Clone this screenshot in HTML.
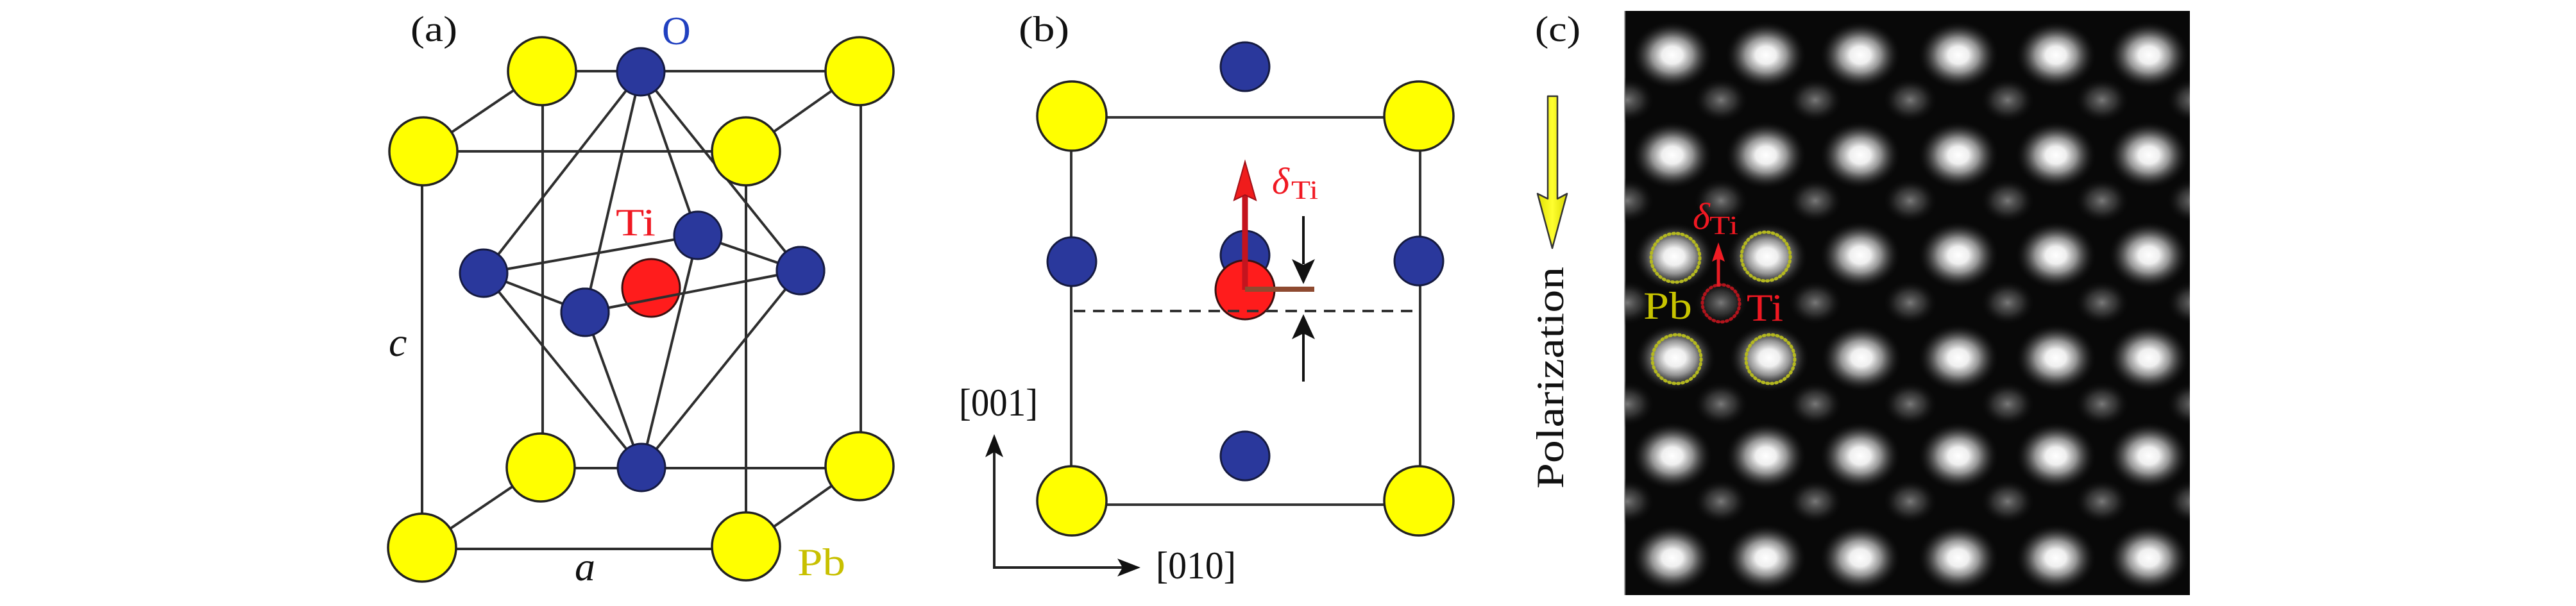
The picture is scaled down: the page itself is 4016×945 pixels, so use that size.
<!DOCTYPE html>
<html>
<head>
<meta charset="utf-8">
<style>
  html, body { margin:0; padding:0; background:#ffffff; }
  body { width:4016px; height:945px; overflow:hidden; }
  svg { display:block; }
  text { font-family: "Liberation Serif", "DejaVu Serif", serif; }
</style>
</head>
<body>
<svg width="4016" height="945" viewBox="0 0 4016 945" xmlns="http://www.w3.org/2000/svg" font-family="'Liberation Serif', 'DejaVu Serif', serif">
  <defs>
    <radialGradient id="pb" cx="50%" cy="50%" r="50%">
      <stop offset="0" stop-color="#ffffff" stop-opacity="1"/>
      <stop offset="0.25" stop-color="#f6f6f6" stop-opacity="0.97"/>
      <stop offset="0.5" stop-color="#d0d0d0" stop-opacity="0.7"/>
      <stop offset="0.75" stop-color="#8a8a8a" stop-opacity="0.28"/>
      <stop offset="1" stop-color="#000000" stop-opacity="0"/>
    </radialGradient>
    <radialGradient id="ti" cx="50%" cy="50%" r="50%">
      <stop offset="0" stop-color="#858585" stop-opacity="0.9"/>
      <stop offset="0.5" stop-color="#5a5a5a" stop-opacity="0.5"/>
      <stop offset="1" stop-color="#000000" stop-opacity="0"/>
    </radialGradient>
    <linearGradient id="yarr" x1="0" y1="0" x2="1" y2="0">
      <stop offset="0" stop-color="#e0e000"/>
      <stop offset="0.5" stop-color="#ffff30"/>
      <stop offset="1" stop-color="#d8d800"/>
    </linearGradient>
    <clipPath id="stemclip"><rect x="2533" y="17" width="881" height="911"/></clipPath>
  </defs>

  <!-- ================= Panel (a) ================= -->
  <text x="640" y="64" font-family="Liberation Serif, serif" font-size="56" textLength="73" lengthAdjust="spacingAndGlyphs" fill="#111">(a)</text>
  <text x="1032" y="69" font-family="Liberation Serif, serif" font-size="62" fill="#2040c0">O</text>

  <g stroke="#2e2e2e" stroke-width="4" fill="none" stroke-linecap="round">
    <line x1="845" y1="111" x2="1340" y2="111"/>
    <line x1="660" y1="236" x2="1163" y2="236"/>
    <line x1="843" y1="730" x2="1340" y2="730"/>
    <line x1="658" y1="856" x2="1163" y2="856"/>
    <line x1="846" y1="111" x2="846" y2="729"/>
    <line x1="1342" y1="111" x2="1342" y2="727"/>
    <line x1="658" y1="236" x2="658" y2="854"/>
    <line x1="1163" y1="236" x2="1163" y2="852"/>
    <line x1="660" y1="236" x2="845" y2="111"/>
    <line x1="1163" y1="236" x2="1340" y2="111"/>
    <line x1="658" y1="854" x2="843" y2="729"/>
    <line x1="1163" y1="852" x2="1340" y2="727"/>
    <line x1="999" y1="112" x2="754" y2="426"/>
    <line x1="999" y1="112" x2="912" y2="487"/>
    <line x1="999" y1="112" x2="1088" y2="367"/>
    <line x1="999" y1="112" x2="1248" y2="422"/>
    <line x1="1000" y1="729" x2="754" y2="426"/>
    <line x1="1000" y1="729" x2="912" y2="487"/>
    <line x1="1000" y1="729" x2="1088" y2="367"/>
    <line x1="1000" y1="729" x2="1248" y2="422"/>
    <line x1="754" y1="426" x2="1088" y2="367"/>
    <line x1="754" y1="426" x2="912" y2="487"/>
    <line x1="1088" y1="367" x2="1248" y2="422"/>
  </g>

  <g fill="#ffff00" stroke="#222" stroke-width="3.5">
    <circle cx="845" cy="111" r="53"/>
    <circle cx="1340" cy="111" r="53"/>
    <circle cx="660" cy="236" r="53"/>
    <circle cx="1163" cy="236" r="53"/>
    <circle cx="843" cy="729" r="53"/>
    <circle cx="1340" cy="727" r="53"/>
    <circle cx="658" cy="854" r="53"/>
    <circle cx="1163" cy="852" r="53"/>
  </g>
  <g fill="#2a389c" stroke="#151a40" stroke-width="3">
    <circle cx="999" cy="112" r="37"/>
    <circle cx="1000" cy="729" r="37"/>
    <circle cx="754" cy="426" r="37"/>
    <circle cx="1248" cy="422" r="37"/>
    <circle cx="912" cy="487" r="37"/>
    <circle cx="1088" cy="367" r="37"/>
  </g>
  <circle cx="1015" cy="449" r="45" fill="#ff1c1c" stroke="#3a1010" stroke-width="3"/>
  <line x1="912" y1="487" x2="1248" y2="422" stroke="#2e2e2e" stroke-width="4"/>
  <circle cx="912" cy="487" r="37" fill="#2a389c" stroke="#151a40" stroke-width="3"/>
  <circle cx="1248" cy="422" r="37" fill="#2a389c" stroke="#151a40" stroke-width="3"/>

  <text x="960" y="367" font-family="Liberation Serif, serif" font-size="60" textLength="62" lengthAdjust="spacingAndGlyphs" fill="#f01822">Ti</text>
  <text x="606" y="555" font-family="Liberation Serif, serif" font-size="64" font-style="italic" fill="#111">c</text>
  <text x="896" y="905" font-family="Liberation Serif, serif" font-size="64" font-style="italic" fill="#111">a</text>
  <text x="1243" y="897" font-family="Liberation Serif, serif" font-size="60" textLength="75" lengthAdjust="spacingAndGlyphs" fill="#c8c000">Pb</text>

  <!-- ================= Panel (b) ================= -->
  <text x="1588" y="64" font-family="Liberation Serif, serif" font-size="56" textLength="79" lengthAdjust="spacingAndGlyphs" fill="#111">(b)</text>

  <g stroke="#333" stroke-width="4" fill="none">
    <line x1="1671" y1="183" x2="2212" y2="183"/>
    <line x1="1671" y1="787" x2="2212" y2="787"/>
    <line x1="1670" y1="181" x2="1670" y2="781"/>
    <line x1="2214" y1="181" x2="2214" y2="781"/>
  </g>
  <g fill="#ffff00" stroke="#222" stroke-width="3.5">
    <circle cx="1671" cy="181" r="54"/>
    <circle cx="2212" cy="181" r="54"/>
    <circle cx="1671" cy="781" r="54"/>
    <circle cx="2212" cy="781" r="54"/>
  </g>
  <g fill="#2a389c" stroke="#151a40" stroke-width="3">
    <circle cx="1941" cy="104" r="38"/>
    <circle cx="1671" cy="408" r="38"/>
    <circle cx="2212" cy="407" r="38"/>
    <circle cx="1941" cy="398" r="38"/>
    <circle cx="1941" cy="711" r="38"/>
  </g>
  <circle cx="1941" cy="452" r="46" fill="#ff1c1c" stroke="#3a1010" stroke-width="3"/>
  <line x1="1674" y1="485" x2="2212" y2="485" stroke="#333" stroke-width="4" stroke-dasharray="18 12"/>

  <line x1="1941" y1="452" x2="1941" y2="300" stroke="#c4141e" stroke-width="9"/>
  <path d="M1941,252 L1958,312 L1941,304 L1924,312 Z" fill="#f01c1c" stroke="#a01018" stroke-width="2"/>
  <line x1="1941" y1="451" x2="2049" y2="451" stroke="#8e4a30" stroke-width="8"/>
  <line x1="2032" y1="337" x2="2032" y2="412" stroke="#111" stroke-width="4"/>
  <path d="M2032,443 L2050,404 L2032,413 L2014,404 Z" fill="#111"/>
  <line x1="2032" y1="595" x2="2032" y2="520" stroke="#111" stroke-width="4"/>
  <path d="M2032,490 L2050,529 L2032,520 L2014,529 Z" fill="#111"/>
  <text x="1983" y="302" font-family="Liberation Serif, serif" font-size="58" font-style="italic" fill="#f01822">δ</text>
  <text x="2013" y="310" font-family="Liberation Serif, serif" font-size="41" textLength="42" lengthAdjust="spacingAndGlyphs" fill="#f01822">Ti</text>

  <line x1="1550" y1="887" x2="1550" y2="705" stroke="#222" stroke-width="4"/>
  <path d="M1550,677 L1564,713 L1550,705 L1536,713 Z" fill="#111"/>
  <line x1="1548" y1="885" x2="1750" y2="885" stroke="#222" stroke-width="4"/>
  <path d="M1778,885 L1742,899 L1750,885 L1742,871 Z" fill="#111"/>
  <text x="1495" y="648" font-family="Liberation Serif, serif" font-size="60" textLength="123" lengthAdjust="spacingAndGlyphs" fill="#111">[001]</text>
  <text x="1802" y="902" font-family="Liberation Serif, serif" font-size="60" textLength="125" lengthAdjust="spacingAndGlyphs" fill="#111">[010]</text>

  <!-- ================= Panel (c) ================= -->
  <text x="2393" y="64" font-family="Liberation Serif, serif" font-size="56" textLength="71" lengthAdjust="spacingAndGlyphs" fill="#111">(c)</text>

  <path d="M2413,150 L2428,150 L2428,310 L2443,302 L2420,387 L2397,302 L2413,310 Z" fill="url(#yarr)" stroke="#333" stroke-width="2.5" stroke-linejoin="round"/>
  <text transform="translate(2437,762) rotate(-90)" font-family="Liberation Serif, serif" font-size="60" textLength="346" lengthAdjust="spacingAndGlyphs" fill="#111">Polarization</text>

  <rect x="2532" y="17" width="882" height="911" fill="#080808"/>
  <line x1="2533" y1="17" x2="2533" y2="928" stroke="#9a9a9a" stroke-width="2"/>
  <g clip-path="url(#stemclip)">
    <g fill="url(#ti)">
      <ellipse cx="2537" cy="156" rx="44" ry="36"/><ellipse cx="2683" cy="156" rx="44" ry="36"/><ellipse cx="2830" cy="156" rx="44" ry="36"/><ellipse cx="2978" cy="156" rx="44" ry="36"/><ellipse cx="3130" cy="156" rx="44" ry="36"/><ellipse cx="3277" cy="156" rx="44" ry="36"/><ellipse cx="3420" cy="156" rx="44" ry="36"/>
      <ellipse cx="2537" cy="313" rx="44" ry="36"/><ellipse cx="2683" cy="313" rx="44" ry="36"/><ellipse cx="2830" cy="313" rx="44" ry="36"/><ellipse cx="2978" cy="313" rx="44" ry="36"/><ellipse cx="3130" cy="313" rx="44" ry="36"/><ellipse cx="3277" cy="313" rx="44" ry="36"/><ellipse cx="3420" cy="313" rx="44" ry="36"/>
      <ellipse cx="2537" cy="472" rx="44" ry="36"/><ellipse cx="2683" cy="472" rx="44" ry="36"/><ellipse cx="2830" cy="472" rx="44" ry="36"/><ellipse cx="2978" cy="472" rx="44" ry="36"/><ellipse cx="3130" cy="472" rx="44" ry="36"/><ellipse cx="3277" cy="472" rx="44" ry="36"/><ellipse cx="3420" cy="472" rx="44" ry="36"/>
      <ellipse cx="2537" cy="630" rx="44" ry="36"/><ellipse cx="2683" cy="630" rx="44" ry="36"/><ellipse cx="2830" cy="630" rx="44" ry="36"/><ellipse cx="2978" cy="630" rx="44" ry="36"/><ellipse cx="3130" cy="630" rx="44" ry="36"/><ellipse cx="3277" cy="630" rx="44" ry="36"/><ellipse cx="3420" cy="630" rx="44" ry="36"/>
      <ellipse cx="2537" cy="782" rx="44" ry="36"/><ellipse cx="2683" cy="782" rx="44" ry="36"/><ellipse cx="2830" cy="782" rx="44" ry="36"/><ellipse cx="2978" cy="782" rx="44" ry="36"/><ellipse cx="3130" cy="782" rx="44" ry="36"/><ellipse cx="3277" cy="782" rx="44" ry="36"/><ellipse cx="3420" cy="782" rx="44" ry="36"/>
    </g>
    <g fill="url(#pb)">
      <ellipse cx="2607" cy="86" rx="64" ry="54"/><ellipse cx="2753" cy="86" rx="64" ry="54"/><ellipse cx="2900" cy="86" rx="64" ry="54"/><ellipse cx="3053" cy="86" rx="64" ry="54"/><ellipse cx="3205" cy="86" rx="64" ry="54"/><ellipse cx="3350" cy="86" rx="64" ry="54"/>
      <ellipse cx="2607" cy="242" rx="64" ry="54"/><ellipse cx="2753" cy="242" rx="64" ry="54"/><ellipse cx="2900" cy="242" rx="64" ry="54"/><ellipse cx="3053" cy="242" rx="64" ry="54"/><ellipse cx="3205" cy="242" rx="64" ry="54"/><ellipse cx="3350" cy="242" rx="64" ry="54"/>
      <ellipse cx="2610" cy="400" rx="64" ry="54"/><ellipse cx="2755" cy="400" rx="64" ry="54"/><ellipse cx="2900" cy="398" rx="64" ry="54"/><ellipse cx="3053" cy="398" rx="64" ry="54"/><ellipse cx="3205" cy="398" rx="64" ry="54"/><ellipse cx="3350" cy="398" rx="64" ry="54"/>
      <ellipse cx="2612" cy="558" rx="64" ry="54"/><ellipse cx="2758" cy="558" rx="64" ry="54"/><ellipse cx="2902" cy="558" rx="64" ry="54"/><ellipse cx="3053" cy="558" rx="64" ry="54"/><ellipse cx="3205" cy="558" rx="64" ry="54"/><ellipse cx="3350" cy="558" rx="64" ry="54"/>
      <ellipse cx="2607" cy="711" rx="64" ry="54"/><ellipse cx="2753" cy="711" rx="64" ry="54"/><ellipse cx="2900" cy="711" rx="64" ry="54"/><ellipse cx="3053" cy="711" rx="64" ry="54"/><ellipse cx="3205" cy="711" rx="64" ry="54"/><ellipse cx="3350" cy="711" rx="64" ry="54"/>
      <ellipse cx="2607" cy="870" rx="64" ry="54"/><ellipse cx="2753" cy="870" rx="64" ry="54"/><ellipse cx="2900" cy="870" rx="64" ry="54"/><ellipse cx="3053" cy="870" rx="64" ry="54"/><ellipse cx="3205" cy="870" rx="64" ry="54"/><ellipse cx="3350" cy="870" rx="64" ry="54"/>
    </g>
  </g>

  <g fill="none" stroke="#b4b820" stroke-width="5" stroke-dasharray="2 5" stroke-linecap="round">
    <circle cx="2612" cy="402" r="38"/>
    <circle cx="2753" cy="400" r="38"/>
    <circle cx="2614" cy="560" r="38"/>
    <circle cx="2760" cy="560" r="38"/>
  </g>
  <circle cx="2683" cy="473" r="29" fill="none" stroke="#b0141c" stroke-width="5" stroke-dasharray="2 5" stroke-linecap="round"/>
  <line x1="2679" y1="447" x2="2679" y2="402" stroke="#e81c24" stroke-width="5"/>
  <path d="M2679,378 L2689,408 L2679,403 L2669,408 Z" fill="#f01c24"/>
  <text x="2639" y="357" font-family="Liberation Serif, serif" font-size="58" font-style="italic" fill="#f01822">δ</text>
  <text x="2665" y="365" font-family="Liberation Serif, serif" font-size="41" textLength="45" lengthAdjust="spacingAndGlyphs" fill="#f01822">Ti</text>
  <text x="2562" y="497" font-family="Liberation Serif, serif" font-size="60" textLength="76" lengthAdjust="spacingAndGlyphs" fill="#c8c400">Pb</text>
  <text x="2723" y="500" font-family="Liberation Serif, serif" font-size="60" textLength="57" lengthAdjust="spacingAndGlyphs" fill="#f01822">Ti</text>
</svg>
</body>
</html>
